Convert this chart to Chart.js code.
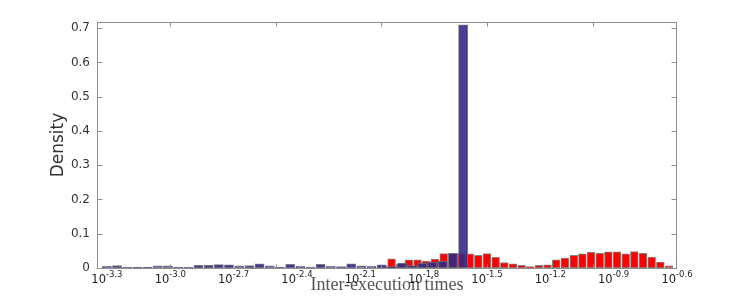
<!DOCTYPE html>
<html>
<head>
<meta charset="utf-8">
<script src="https://cdn.jsdelivr.net/npm/chart.js@4.4.1/dist/chart.umd.min.js"></script>
<style>
  html, body { margin: 0; padding: 0; background: #fff; }
  #wrap { width: 747px; height: 301px; }
</style>
</head>
<body>
<div id="wrap"><canvas id="histChart"></canvas></div>
<script>
// bin centres are log10 of the inter-execution time
const blueCentres = [-3.300, -3.252, -3.204, -3.155, -3.107, -3.059, -3.011, -2.963, -2.914, -2.866,
  -2.818, -2.770, -2.722, -2.673, -2.625, -2.577, -2.529, -2.481, -2.432, -2.384,
  -2.336, -2.288, -2.240, -2.191, -2.143, -2.095, -2.047, -1.999, -1.950, -1.902,
  -1.854, -1.806, -1.758, -1.709, -1.661, -1.613];
const blueDensity = [0.005, 0.007, 0.003, 0.002, 0.002, 0.006, 0.006, 0.003, 0.003, 0.008,
  0.008, 0.010, 0.009, 0.006, 0.007, 0.012, 0.006, 0.002, 0.011, 0.005,
  0.003, 0.011, 0.005, 0.004, 0.012, 0.006, 0.005, 0.009, 0.004, 0.014,
  0.007, 0.014, 0.017, 0.020, 0.043, 0.710];

const redCentres = [-1.993, -1.952, -1.911, -1.870, -1.829, -1.788, -1.747, -1.705, -1.664, -1.623,
  -1.582, -1.541, -1.500, -1.459, -1.418, -1.377, -1.336, -1.295, -1.254, -1.213,
  -1.172, -1.131, -1.089, -1.048, -1.007, -0.966, -0.925, -0.884, -0.843, -0.802,
  -0.761, -0.720, -0.679, -0.638];
const redDensity = [0.006, 0.027, 0.011, 0.024, 0.024, 0.020, 0.026, 0.042, 0.041, 0.042,
  0.041, 0.037, 0.042, 0.031, 0.016, 0.012, 0.008, 0.004, 0.008, 0.009,
  0.024, 0.029, 0.037, 0.041, 0.046, 0.043, 0.047, 0.047, 0.041, 0.048,
  0.043, 0.032, 0.017, 0.006];

const blueBinWidth = 0.0482;
const redBinWidth = 0.0411;

const xLabelValues = [-3.3, -3.0, -2.7, -2.4, -2.1, -1.8, -1.5, -1.2, -0.9, -0.6];
const xTickMarks = [-3.0, -2.5, -2.0, -1.5, -1.0];
const yTickValues = [0, 0.1, 0.2, 0.3, 0.4, 0.5, 0.6, 0.7];

function toPoints(xs, ys) {
  return xs.map((x, i) => ({ x: x, y: ys[i] }));
}

// bar width in pixels for a bin of the given log width
function binPixels(chart, width) {
  const s = chart.scales.x;
  if (!s) return 8;
  return Math.abs(s.getPixelForValue(width) - s.getPixelForValue(0));
}

const framePlugin = {
  id: 'frame',
  afterDatasetsDraw(chart) {
    const { ctx, chartArea: a, scales: { x, y } } = chart;
    const l = a.left + 0.5, r = a.right - 0.5, t = a.top + 0.5, b = a.bottom + 0.5;
    ctx.save();
    ctx.strokeStyle = '#8e8e8e';
    ctx.lineWidth = 1;
    ctx.strokeRect(l, t, r - l, b - t);
    ctx.beginPath();
    yTickValues.forEach(v => {
      const py = Math.round(y.getPixelForValue(v)) + 0.5;
      ctx.moveTo(l, py); ctx.lineTo(l + 5, py);
      ctx.moveTo(r, py); ctx.lineTo(r - 5, py);
    });
    xTickMarks.forEach(v => {
      const px = Math.round(x.getPixelForValue(v)) + 0.5;
      ctx.moveTo(px, b); ctx.lineTo(px, b - 4);
      ctx.moveTo(px, t); ctx.lineTo(px, t + 4);
    });
    ctx.stroke();

    // tick labels as powers of ten
    ctx.fillStyle = '#222';
    ctx.textBaseline = 'alphabetic';
    ctx.textAlign = 'left';
    const bigFont = '11.5px "DejaVu Sans"';
    const supFont = '8.5px "DejaVu Sans"';
    xLabelValues.forEach(v => {
      const px = x.getPixelForValue(v);
      const sup = v.toFixed(1);
      ctx.font = bigFont;
      const w1 = ctx.measureText('10').width;
      ctx.font = supFont;
      const w2 = ctx.measureText(sup).width;
      const left = px - (w1 + w2) / 2;
      ctx.font = bigFont;
      ctx.fillText('10', left, a.bottom + 15);
      ctx.font = supFont;
      ctx.fillText(sup, left + w1, a.bottom + 8.5);
    });
    ctx.restore();
  }
};

const ctx = document.getElementById('histChart').getContext('2d');
new Chart(ctx, {
  type: 'bar',
  data: {
    datasets: [
      {
        label: 'blue',
        data: toPoints(blueCentres, blueDensity),
        backgroundColor: 'rgba(48, 38, 135, 0.88)',
        borderColor: 'rgba(110, 110, 120, 0.9)',
        borderWidth: 1,
        borderSkipped: false,
        grouped: false,
        barThickness: c => binPixels(c.chart, blueBinWidth) * 0.9
      },
      {
        label: 'red',
        data: toPoints(redCentres, redDensity),
        backgroundColor: '#ff0000',
        borderColor: 'rgba(120, 120, 120, 0.9)',
        borderWidth: 1,
        borderSkipped: false,
        grouped: false,
        barThickness: c => binPixels(c.chart, redBinWidth) * 0.9
      }
    ]
  },
  options: {
    responsive: true,
    maintainAspectRatio: false,
    animation: false,
    layout: { padding: { top: 22, right: 70, left: 0, bottom: 0 } },
    plugins: {
      legend: { display: false },
      tooltip: { enabled: false }
    },
    scales: {
      x: {
        type: 'linear',
        min: -3.347,
        max: -0.6,
        offset: false,
        grid: { display: false, drawTicks: false },
        border: { display: false },
        ticks: { display: false },
        title: {
          display: true,
          text: 'Inter-execution times',
          color: '#555',
          font: { family: 'Liberation Serif', size: 18 },
          padding: { top: 0, bottom: 5 }
        },
        afterFit(scale) { scale.height = 33; }
      },
      y: {
        min: 0,
        max: 0.718,
        grid: { display: false, drawTicks: false },
        border: { display: false },
        ticks: {
          stepSize: 0.1,
          includeBounds: false,
          padding: 7,
          color: '#333',
          font: { family: 'DejaVu Sans', size: 12 },
          callback: v => (v === 0 ? '0' : v.toFixed(1))
        },
        title: {
          display: true,
          text: 'Density',
          color: '#333',
          font: { family: 'DejaVu Sans', size: 17 },
          padding: { top: 48, bottom: 0 }
        },
        afterFit(scale) { scale.width = 97; }
      }
    }
  },
  plugins: [framePlugin]
});
</script>
</body>
</html>
